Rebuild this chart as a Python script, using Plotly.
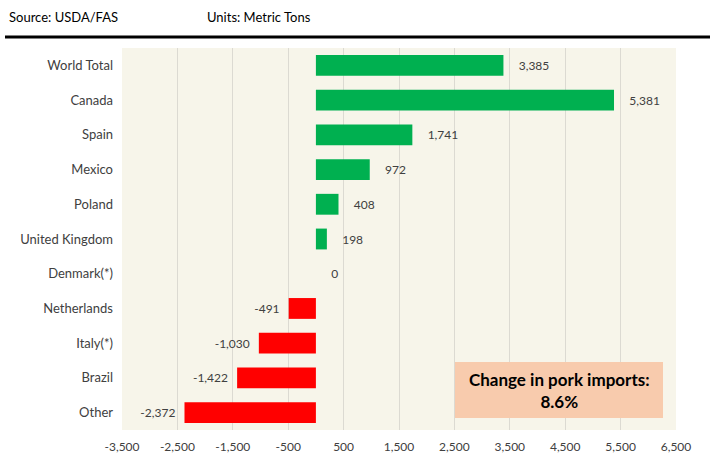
import plotly.graph_objects as go

categories = ["World Total", "Canada", "Spain", "Mexico", "Poland", "United Kingdom",
              "Denmark(*)", "Netherlands", "Italy(*)", "Brazil", "Other"]
values = [3385, 5381, 1741, 972, 408, 198, 0, -491, -1030, -1422, -2372]
tick_vals = [-3500, -2500, -1500, -500, 500, 1500, 2500, 3500, 4500, 5500, 6500]
tick_text = ["-3,500", "-2,500", "-1,500", "-500", "500", "1,500", "2,500",
             "3,500", "4,500", "5,500", "6,500"]

colors = ["#00B050" if v >= 0 else "#FF0000" for v in values]
NB = "\u00a0"
labels = [(NB * 4 + f"{v:,}") if v >= 0 else (f"{v:,}" + NB * 2) for v in values]
positions = ["outside"] * len(values)

FONT = "Lato, Open Sans, sans-serif"

W, H = 710, 454
ml, mr, mt, mb = 122, 34, 48, 24
pw, ph = W - ml - mr, H - mt - mb


def px(x):
    return (x - ml) / pw


def py(y):
    return (H - mb - y) / ph


fig = go.Figure()
fig.add_trace(go.Bar(
    x=values, y=categories, orientation="h",
    marker=dict(color=colors, line=dict(width=0)),
    text=labels, textposition=positions,
    textfont=dict(family=FONT, size=12, color="#404040"),
    cliponaxis=False,
))

fig.update_layout(
    width=W, height=H,
    margin=dict(l=ml, r=mr, t=mt, b=mb, autoexpand=False),
    paper_bgcolor="white",
    plot_bgcolor="#F7F5EA",
    bargap=0.4,
    showlegend=False,
    font=dict(family=FONT, size=12, color="#404040"),
    xaxis=dict(range=[-3500, 6500], tickvals=tick_vals, ticktext=tick_text,
               showgrid=True, gridcolor="#DCDAD2", gridwidth=1, automargin=False,
               zeroline=False, ticks="", ticklabelstandoff=8,
               tickfont=dict(size=12, color="#404040"), fixedrange=True),
    yaxis=dict(categoryorder="array", categoryarray=categories, autorange="reversed",
               showgrid=False, zeroline=False, ticks="", ticklabelstandoff=8,
               automargin=False, tickfont=dict(size=13, color="#404040")),
    shapes=[
        dict(type="line", xref="paper", yref="paper", x0=px(5), x1=px(712),
             y0=py(37), y1=py(37), line=dict(color="black", width=3)),
        dict(type="rect", xref="paper", yref="paper", x0=px(455), x1=px(663),
             y0=py(418), y1=py(362), fillcolor="#F8CBAD", line=dict(width=0)),
    ],
    annotations=[
        dict(text="Source: USDA/FAS", xref="paper", yref="paper", x=px(7), y=py(17),
             xanchor="left", yanchor="middle", showarrow=False,
             font=dict(family=FONT, size=13, color="black")),
        dict(text="Units: Metric Tons", xref="paper", yref="paper", x=px(205), y=py(17),
             xanchor="left", yanchor="middle", showarrow=False,
             font=dict(family=FONT, size=13, color="black")),
        dict(text="<b>Change in pork imports:<br>8.6%</b>", xref="paper", yref="paper",
             x=px(559), y=py(390), xanchor="center", yanchor="middle", showarrow=False,
             align="center", font=dict(family=FONT, size=17, color="black")),
    ],
)

fig.write_html("out.html", config={"displayModeBar": False},
               post_script="document.body.style.margin='0';document.body.style.overflow='hidden';")
